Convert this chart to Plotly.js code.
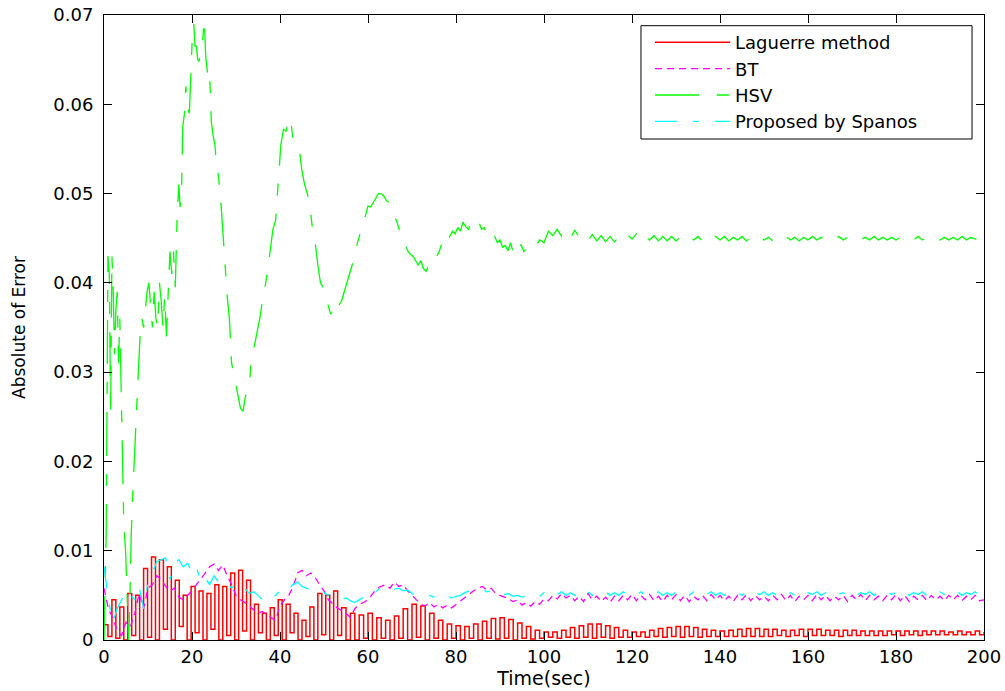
<!DOCTYPE html>
<html>
<head>
<meta charset="utf-8">
<script src="https://cdn.plot.ly/plotly-3.0.1.min.js"></script>
<style>
  html, body { margin: 0; padding: 0; background: #ffffff; }
  #chart { width: 1005px; height: 691px; }
</style>
</head>
<body>
<div id="chart"></div>
<script>
// ---------------- data ----------------
const seriesNames = ["Laguerre method", "BT", "HSV", "Proposed by Spanos"];
const xTickVals = [0, 20, 40, 60, 80, 100, 120, 140, 160, 180, 200];
const yTickVals = [0, 0.01, 0.02, 0.03, 0.04, 0.05, 0.06, 0.07];

// Laguerre method: part 1 sampled every 0.9 s from 0 to 54 s
const laguerreStart1 = 0, laguerreStep1 = 0.9;
const laguerreValues1 = [
  0.0017, 0.0004, 0.0045, 0.0002, 0.0037, 0.0000, 0.0052, 0.0005, 0.0050, 0.0000,
  0.0080, 0.0003, 0.0093, 0.0000, 0.0090, 0.0012, 0.0082, 0.0000, 0.0067, 0.0015,
  0.0050, 0.0000, 0.0060, 0.0008, 0.0055, 0.0000, 0.0052, 0.0012, 0.0062, 0.0000,
  0.0060, 0.0005, 0.0075, 0.0000, 0.0078, 0.0010, 0.0067, 0.0000, 0.0040, 0.0008,
  0.0030, 0.0000, 0.0036, 0.0005, 0.0045, 0.0000, 0.0040, 0.0008, 0.0030, 0.0000,
  0.0022, 0.0004, 0.0037, 0.0000, 0.0052, 0.0006, 0.0050, 0.0000, 0.0055, 0.0005,
  0.0036
];
// Laguerre method: part 2 sampled every 1 s from 55 to 200 s
const laguerreStart2 = 55, laguerreStep2 = 1;
const laguerreValues2 = [
  0.0000, 0.0030, 0.0000, 0.0028, 0.0002, 0.0030, 0.0000, 0.0025, 0.0002, 0.0022,
  0.0000, 0.0027, 0.0002, 0.0035, 0.0000, 0.0040, 0.0003, 0.0038, 0.0000, 0.0030,
  0.0002, 0.0022, 0.0000, 0.0018, 0.0002, 0.0016, 0.0000, 0.0015, 0.0002, 0.0018,
  0.0000, 0.0021, 0.0002, 0.0024, 0.0001, 0.0025, 0.0002, 0.0023, 0.0000, 0.0019,
  0.0002, 0.0015, 0.0001, 0.0011, 0.0002, 0.0009, 0.0003, 0.0009, 0.0002, 0.0011,
  0.0003, 0.0014, 0.0002, 0.0016, 0.0003, 0.0018, 0.0002, 0.0018, 0.0003, 0.0016,
  0.0002, 0.0014, 0.0003, 0.0011, 0.0003, 0.0009, 0.0004, 0.0009, 0.0003, 0.0011,
  0.0004, 0.0013, 0.0003, 0.0014, 0.0004, 0.0015, 0.0003, 0.0015, 0.0004, 0.0014,
  0.0003, 0.0012, 0.0004, 0.0011, 0.0004, 0.0010, 0.0004, 0.0011, 0.0004, 0.0012,
  0.0004, 0.0013, 0.0004, 0.0013, 0.0004, 0.0012, 0.0004, 0.0012, 0.0005, 0.0011,
  0.0004, 0.0011, 0.0005, 0.0012, 0.0004, 0.0012, 0.0005, 0.0012, 0.0005, 0.0011,
  0.0005, 0.0011, 0.0004, 0.0011, 0.0005, 0.0011, 0.0005, 0.0010, 0.0005, 0.0010,
  0.0005, 0.0010, 0.0005, 0.0010, 0.0006, 0.0010, 0.0005, 0.0010, 0.0006, 0.0010,
  0.0005, 0.0010, 0.0006, 0.0010, 0.0006, 0.0010, 0.0006, 0.0009, 0.0006, 0.0010,
  0.0006, 0.0009, 0.0006, 0.0010, 0.0006, 0.0009
];

// BT: every 1 s from 0 to 200 s
const btStart = 0, btStep = 1;
const btValues = [
  0.0058, 0.0035, 0.0025, 0.0010, 0.0005, 0.0020, 0.0015, 0.0030, 0.0052, 0.0035,
  0.0058, 0.0062, 0.0072, 0.0068, 0.0060, 0.0055, 0.0058, 0.0048, 0.0045, 0.0050,
  0.0055, 0.0062, 0.0068, 0.0075, 0.0082, 0.0085, 0.0078, 0.0084, 0.0072, 0.0062,
  0.0050, 0.0045, 0.0042, 0.0038, 0.0035, 0.0030, 0.0032, 0.0028, 0.0025, 0.0022,
  0.0038, 0.0045, 0.0050, 0.0060, 0.0075, 0.0078, 0.0072, 0.0075, 0.0070, 0.0062,
  0.0055, 0.0045, 0.0040, 0.0036, 0.0033, 0.0030, 0.0025, 0.0035, 0.0040, 0.0042,
  0.0045, 0.0052, 0.0058, 0.0060, 0.0062, 0.0058, 0.0065, 0.0060, 0.0062, 0.0055,
  0.0050, 0.0045, 0.0040, 0.0038, 0.0042, 0.0037, 0.0040, 0.0036, 0.0039, 0.0036,
  0.0040, 0.0044, 0.0048, 0.0052, 0.0055, 0.0058, 0.0060, 0.0056, 0.0058, 0.0052,
  0.0050, 0.0048, 0.0046, 0.0043, 0.0045, 0.0039, 0.0042, 0.0038, 0.0043, 0.0040,
  0.0046, 0.0044, 0.0050, 0.0046, 0.0052, 0.0047, 0.0050, 0.0044, 0.0049, 0.0043,
  0.0052, 0.0045, 0.0049, 0.0043, 0.0048, 0.0042, 0.0049, 0.0044, 0.0050, 0.0045,
  0.0051, 0.0044, 0.0050, 0.0045, 0.0051, 0.0044, 0.0049, 0.0043, 0.0050, 0.0045,
  0.0051, 0.0044, 0.0050, 0.0043, 0.0049, 0.0045, 0.0050, 0.0044, 0.0051, 0.0045,
  0.0050, 0.0044, 0.0049, 0.0043, 0.0050, 0.0045, 0.0051, 0.0044, 0.0050, 0.0045,
  0.0049, 0.0044, 0.0050, 0.0045, 0.0051, 0.0044, 0.0050, 0.0043, 0.0049, 0.0045,
  0.0050, 0.0044, 0.0051, 0.0045, 0.0050, 0.0044, 0.0049, 0.0045, 0.0050, 0.0043,
  0.0050, 0.0045, 0.0051, 0.0044, 0.0050, 0.0045, 0.0049, 0.0044, 0.0050, 0.0045,
  0.0051, 0.0044, 0.0050, 0.0043, 0.0049, 0.0045, 0.0050, 0.0044, 0.0050, 0.0045,
  0.0049, 0.0044, 0.0050, 0.0045, 0.0050, 0.0044, 0.0049, 0.0045, 0.0050, 0.0044,
  0.0045
];

// HSV: irregular early samples
const hsvTimeEarly = [
  0, 0.5, 0.9, 1.2, 1.5, 1.8, 2.1, 2.4, 2.7, 3.0, 3.3, 3.6, 3.9, 4.2, 4.5, 4.9, 5.3, 5.6, 5.9,
  6.2, 6.6, 7.0, 7.4, 7.8, 8.2, 8.6, 9.0, 9.4, 9.8, 10.2, 10.6, 11.0, 11.4, 11.8, 12.2, 12.6,
  13.0, 13.4, 13.8, 14.2, 14.6, 15.0, 15.4, 15.8, 16.2, 16.6, 17.0, 17.3, 17.6, 17.9, 18.3,
  18.6, 19.0, 19.4, 19.8, 20.1, 20.4, 20.7, 21.0, 21.3, 21.6, 22.0, 22.4, 22.8, 23.1, 23.4,
  23.7, 24.0, 24.4, 24.8, 25.2, 25.6, 26.0, 26.5, 27.0, 27.5, 28.0, 28.5, 29.0, 29.5, 30.0,
  30.5, 31.0, 31.6, 32.1, 32.6, 33.1, 33.6, 34.2, 34.8, 35.4, 36.0, 36.6, 37.2, 37.8, 38.4,
  39.0, 39.6, 40.2, 40.8, 41.4, 42.0, 42.5, 43.0, 43.5, 44.0, 44.5, 45.0, 45.6, 46.2, 46.8,
  47.4, 48.0, 48.6, 49.2, 49.8, 50.4, 51.0, 51.5, 52.2, 52.8, 53.4, 54.0, 54.6, 55.2, 55.8,
  56.4, 57.0, 57.6, 58.2, 58.8, 59.4, 60.0, 60.6, 61.2, 61.8, 62.4, 63.0, 63.6, 64.2, 64.8,
  65.4, 66.0, 66.6, 67.2, 67.8, 68.4, 69.0, 69.6, 70.2, 70.8, 71.4, 72.0, 72.6, 73.2, 73.8,
  74.4, 75.0, 75.6, 76.2, 76.8, 77.4, 78.0, 78.6, 79.2, 79.8, 80.4, 81.0, 81.6, 82.2, 82.8,
  83.4, 84.0, 84.6, 85.2, 85.8, 86.4, 87.0, 87.6, 88.2, 88.8, 89.4, 90.0, 90.6, 91.2, 91.8,
  92.4, 93.0, 93.6, 94.2, 94.8, 95.4
];
const hsvValuesEarly = [
  0.0000, 0.0120, 0.0430, 0.0410, 0.0250, 0.0430, 0.0390, 0.0320, 0.0370, 0.0390, 0.0310, 0.0360, 0.0280, 0.0200, 0.0130, 0.0100, 0.0040, 0.0000, 0.0050,
  0.0120, 0.0170, 0.0220, 0.0270, 0.0300, 0.0340, 0.0360, 0.0350, 0.0370, 0.0390, 0.0400, 0.0370, 0.0350, 0.0390, 0.0360, 0.0350, 0.0400,
  0.0380, 0.0350, 0.0385, 0.0340, 0.0390, 0.0435, 0.0410, 0.0435, 0.0395, 0.0470, 0.0510, 0.0485, 0.0500, 0.0575, 0.0590,
  0.0620, 0.0595, 0.0590, 0.0640, 0.0680, 0.0690, 0.0665, 0.0665, 0.0650, 0.0648, 0.0660, 0.0670, 0.0695, 0.0655, 0.0640,
  0.0630, 0.0635, 0.0580, 0.0565, 0.0555, 0.0530, 0.0520, 0.0495, 0.0455, 0.0425, 0.0385, 0.0360, 0.0310, 0.0298, 0.0285,
  0.0270, 0.0260, 0.0256, 0.0272, 0.0280, 0.0290, 0.0320, 0.0330, 0.0345, 0.0360, 0.0380, 0.0395, 0.0415, 0.0435, 0.0460,
  0.0470, 0.0515, 0.0555, 0.0572, 0.0570, 0.0585, 0.0580, 0.0558, 0.0555, 0.0550, 0.0545, 0.0525, 0.0510, 0.0500, 0.0485,
  0.0460, 0.0445, 0.0420, 0.0400, 0.0395, 0.0385, 0.0375, 0.0365, 0.0370, 0.0365, 0.0375, 0.0380, 0.0390, 0.0400, 0.0410,
  0.0422, 0.0430, 0.0445, 0.0455, 0.0468, 0.0475, 0.0486, 0.0485, 0.0490, 0.0495, 0.0500, 0.0500, 0.0497, 0.0492, 0.0490,
  0.0485, 0.0475, 0.0468, 0.0458, 0.0452, 0.0445, 0.0436, 0.0432, 0.0430, 0.0425, 0.0420, 0.0425, 0.0416, 0.0413, 0.0420,
  0.0418, 0.0425, 0.0430, 0.0435, 0.0445, 0.0440, 0.0448, 0.0452, 0.0458, 0.0455, 0.0462, 0.0458, 0.0468, 0.0463, 0.0460,
  0.0468, 0.0470, 0.0465, 0.0468, 0.0460, 0.0462, 0.0455, 0.0458, 0.0450, 0.0452, 0.0445, 0.0448, 0.0440, 0.0442, 0.0436,
  0.0445, 0.0434, 0.0440, 0.0436, 0.0443, 0.0435
];
// HSV: every 1 s from 96 to 200 s
const hsvStartLate = 96, hsvStepLate = 1;
const hsvValuesLate = [
  0.0438, 0.0444, 0.0440, 0.0448, 0.0445, 0.0458, 0.0453, 0.0460, 0.0452, 0.0458,
  0.0450, 0.0459, 0.0451, 0.0455, 0.0448, 0.0454, 0.0447, 0.0453, 0.0446, 0.0452,
  0.0446, 0.0451, 0.0447, 0.0454, 0.0449, 0.0455, 0.0449, 0.0454, 0.0448, 0.0453,
  0.0447, 0.0452, 0.0447, 0.0452, 0.0447, 0.0451, 0.0447, 0.0452, 0.0448, 0.0452,
  0.0447, 0.0451, 0.0447, 0.0452, 0.0448, 0.0452, 0.0447, 0.0451, 0.0448, 0.0452,
  0.0447, 0.0451, 0.0448, 0.0452, 0.0448, 0.0451, 0.0447, 0.0451, 0.0448, 0.0452,
  0.0448, 0.0451, 0.0447, 0.0451, 0.0448, 0.0452, 0.0448, 0.0451, 0.0448, 0.0451,
  0.0448, 0.0452, 0.0448, 0.0451, 0.0448, 0.0451, 0.0448, 0.0451, 0.0448, 0.0452,
  0.0448, 0.0451, 0.0448, 0.0451, 0.0448, 0.0451, 0.0448, 0.0451, 0.0448, 0.0452,
  0.0448, 0.0451, 0.0448, 0.0451, 0.0448, 0.0451, 0.0448, 0.0451, 0.0448, 0.0452,
  0.0448, 0.0451, 0.0449, 0.0451, 0.0449
];

// Proposed by Spanos: every 1 s from 0 to 200 s
const spanosStart = 0, spanosStep = 1;
const spanosValues = [
  0.0082, 0.0045, 0.0020, 0.0035, 0.0045, 0.0055, 0.0050, 0.0045, 0.0060, 0.0035,
  0.0065, 0.0075, 0.0088, 0.0090, 0.0092, 0.0068, 0.0085, 0.0090, 0.0082, 0.0086,
  0.0075, 0.0082, 0.0065, 0.0070, 0.0062, 0.0072, 0.0065, 0.0068, 0.0064, 0.0058,
  0.0062, 0.0055, 0.0058, 0.0052, 0.0054, 0.0050, 0.0045, 0.0042, 0.0045, 0.0050,
  0.0055, 0.0052, 0.0058, 0.0062, 0.0065, 0.0060, 0.0058, 0.0056, 0.0055, 0.0052,
  0.0053, 0.0050, 0.0048, 0.0049, 0.0046, 0.0047, 0.0044, 0.0042, 0.0045, 0.0048,
  0.0052, 0.0050, 0.0055, 0.0060, 0.0058, 0.0060, 0.0057, 0.0058, 0.0055, 0.0056,
  0.0052, 0.0050, 0.0051, 0.0049, 0.0050, 0.0048, 0.0050, 0.0048, 0.0050, 0.0047,
  0.0049, 0.0050, 0.0053, 0.0055, 0.0057, 0.0056, 0.0057, 0.0054, 0.0055, 0.0052,
  0.0054, 0.0051, 0.0052, 0.0049, 0.0050, 0.0048, 0.0050, 0.0049, 0.0051, 0.0049,
  0.0053, 0.0050, 0.0054, 0.0051, 0.0054, 0.0050, 0.0053, 0.0050, 0.0054, 0.0050,
  0.0054, 0.0050, 0.0053, 0.0051, 0.0054, 0.0050, 0.0053, 0.0050, 0.0054, 0.0051,
  0.0053, 0.0050, 0.0054, 0.0050, 0.0053, 0.0051, 0.0054, 0.0050, 0.0053, 0.0050,
  0.0054, 0.0051, 0.0053, 0.0050, 0.0054, 0.0050, 0.0053, 0.0051, 0.0054, 0.0050,
  0.0053, 0.0050, 0.0054, 0.0051, 0.0053, 0.0050, 0.0054, 0.0050, 0.0053, 0.0051,
  0.0054, 0.0050, 0.0053, 0.0050, 0.0054, 0.0051, 0.0053, 0.0050, 0.0054, 0.0050,
  0.0053, 0.0051, 0.0054, 0.0050, 0.0053, 0.0050, 0.0054, 0.0051, 0.0053, 0.0050,
  0.0054, 0.0050, 0.0053, 0.0051, 0.0054, 0.0050, 0.0053, 0.0050, 0.0054, 0.0051,
  0.0053, 0.0050, 0.0054, 0.0050, 0.0053, 0.0051, 0.0054, 0.0050, 0.0053, 0.0050,
  0.0054, 0.0051, 0.0053, 0.0050, 0.0054, 0.0050, 0.0053, 0.0051, 0.0054, 0.0050,
  0.0051
];

// ---------------- helpers ----------------
function timeGrid(start, step, n) {
  const t = [];
  for (let i = 0; i < n; i++) t.push(+(start + i * step).toFixed(4));
  return t;
}

const laguerreX = timeGrid(laguerreStart1, laguerreStep1, laguerreValues1.length)
  .concat(timeGrid(laguerreStart2, laguerreStep2, laguerreValues2.length));
const laguerreY = laguerreValues1.concat(laguerreValues2);
const btX = timeGrid(btStart, btStep, btValues.length);
const hsvX = hsvTimeEarly.concat(timeGrid(hsvStartLate, hsvStepLate, hsvValuesLate.length));
const hsvY = hsvValuesEarly.concat(hsvValuesLate);
const spanosX = timeGrid(spanosStart, spanosStep, spanosValues.length);

const FONT = "DejaVu Sans, Liberation Sans, Arial, sans-serif";

const traces = [
  { x: laguerreX, y: laguerreY, name: seriesNames[0], type: "scatter", mode: "lines",
    line: { color: "#ff0000", width: 1.5, shape: "hv" } },
  { x: btX, y: btValues, name: seriesNames[1], type: "scatter", mode: "lines",
    line: { color: "#ff00ff", width: 1.3, dash: "7px,5px" } },
  { x: hsvX, y: hsvY, name: seriesNames[2], type: "scatter", mode: "lines",
    line: { color: "#00ff00", width: 1.3, dash: "44px,18px,12px,18px" } },
  { x: spanosX, y: spanosValues, name: seriesNames[3], type: "scatter", mode: "lines",
    line: { color: "#00ffff", width: 1.3, dash: "22px,16px,6px,16px" } }
];

const axisCommon = {
  showgrid: false, zeroline: false, showline: true, mirror: "ticks",
  linecolor: "#000000", linewidth: 1, ticks: "inside", ticklen: 8,
  tickcolor: "#000000", tickwidth: 1,
  tickfont: { family: FONT, size: 18, color: "#000000" }
};

const layout = {
  width: 1005, height: 691,
  margin: { l: 104, r: 21, t: 15, b: 51, pad: 0 },
  paper_bgcolor: "#ffffff", plot_bgcolor: "#ffffff",
  showlegend: true,
  legend: {
    x: 0.6205, y: 0.9856, xanchor: "left", yanchor: "top",
    bgcolor: "rgba(0,0,0,0)", borderwidth: 0,
    font: { family: FONT, size: 18, color: "#000000" },
    itemwidth: 75, tracegroupgap: 0
  },
  // the legend's frame (wider than the entries, as in the reference)
  shapes: [{
    type: "rect", xref: "paper", yref: "paper", layer: "above",
    x0: 0.6102, x1: 0.9864, y0: 0.8016, y1: 0.9829,
    fillcolor: "#ffffff", line: { color: "#000000", width: 1 }
  }],
  xaxis: Object.assign({}, axisCommon, {
    range: [0, 200], tickmode: "array", tickvals: xTickVals,
    ticktext: xTickVals.map(String), ticklabelstandoff: 0,
    title: { text: "Time(sec)", font: { family: FONT, size: 19, color: "#000000" }, standoff: 5 }
  }),
  yaxis: Object.assign({}, axisCommon, {
    range: [0, 0.07], tickmode: "array", tickvals: yTickVals,
    ticktext: yTickVals.map(v => v === 0 ? "0" : v.toFixed(2)), ticklabelstandoff: 6,
    title: { text: "Absolute of Error", font: { family: FONT, size: 17, color: "#000000" }, standoff: 23 }
  })
};

Plotly.newPlot("chart", traces, layout, { displayModeBar: false, staticPlot: true });
</script>
</body>
</html>
